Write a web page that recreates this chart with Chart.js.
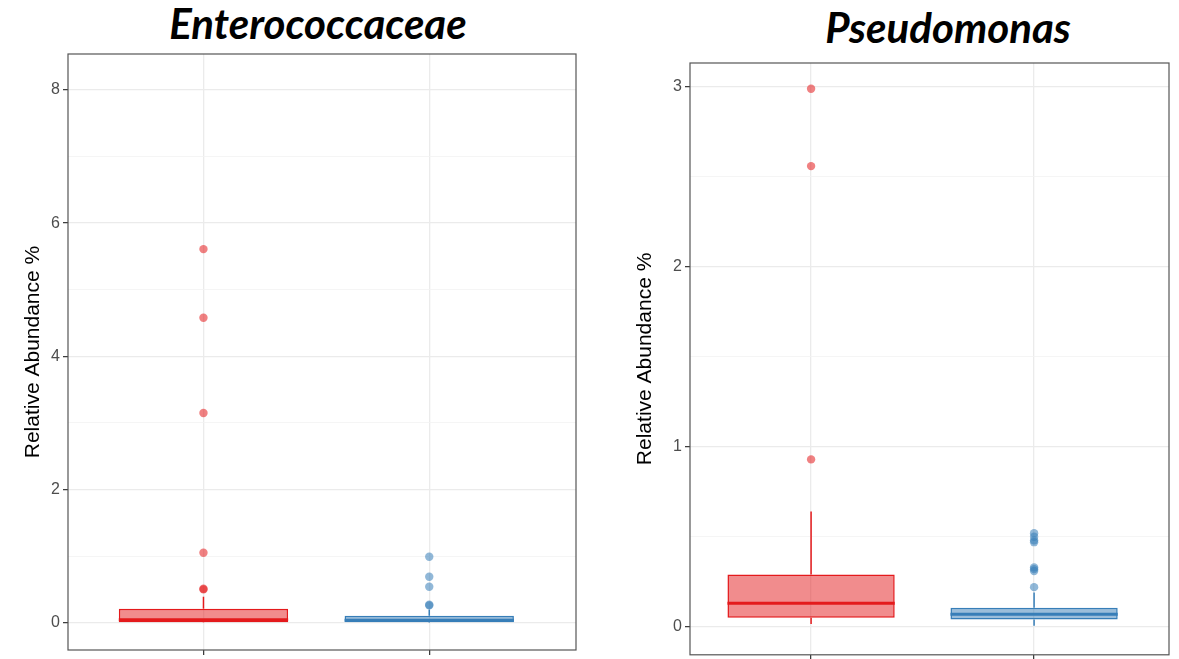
<!DOCTYPE html>
<html>
<head>
<meta charset="utf-8">
<script src="https://cdn.jsdelivr.net/npm/chart.js@4.4.1/dist/chart.umd.min.js"></script>
<style>
  body { margin: 0; background: #fff; width: 1179px; height: 659px; overflow: hidden; position: relative; }
  .panel { position: absolute; top: 0; }
  .title { position: absolute; width: 400px; text-align: center; font-family: Lato, sans-serif;
           font-weight: bold; font-style: italic; font-size: 42px; line-height: 44px; color: #000; }
</style>
</head>
<body>
<div class="title" style="left:118px; top:1px;">Enterococcaceae</div>
<div class="title" style="left:748px; top:5px;">Pseudomonas</div>
<div class="panel" style="left:0; width:590px; height:659px;"><canvas id="entChart" width="590" height="659"></canvas></div>
<div class="panel" style="left:600px; width:579px; height:659px;"><canvas id="pseChart" width="579" height="659"></canvas></div>
<script>
// group positions on the x axis (1 = red group, 2 = blue group)
const groups = [1, 2];
const groupColors = ['#E41A1C', '#377EB8'];
const groupFills = ['rgba(228, 26, 28, 0.5)', 'rgba(55, 126, 184, 0.5)'];
const groupPoints = ['rgba(228, 26, 28, 0.55)', 'rgba(55, 126, 184, 0.55)'];

// Enterococcaceae box stats (per group)
const entLow = [0.0, 0.0];
const entQ1 = [0.005, 0.005];
const entMed = [0.045, 0.035];
const entQ3 = [0.21, 0.105];
const entHigh = [0.39, 0.2];
const entOutRed = [0.5, 0.51, 1.05, 3.15, 4.58, 5.61];
const entOutBlue = [0.26, 0.27, 0.54, 0.69, 0.99];
const entTicks = [0, 1, 2, 3, 4, 5, 6, 7, 8];
const entLabels = ['0', '', '2', '', '4', '', '6', '', '8'];

// Pseudomonas box stats (per group)
const pseLow = [0.015, 0.005];
const pseQ1 = [0.05, 0.04];
const pseMed = [0.13, 0.07];
const pseQ3 = [0.29, 0.105];
const pseHigh = [0.64, 0.19];
const pseOutRed = [0.93, 2.56, 2.99];
const pseOutBlue = [0.22, 0.31, 0.32, 0.33, 0.47, 0.48, 0.5, 0.52];
const pseTicks = [0, 0.5, 1, 1.5, 2, 2.5, 3];
const pseLabels = ['0', '', '1', '', '2', '', '3'];

const halfBox = 0.375;

const frame = {
    id: 'frame',
    afterDraw(chart) {
        const a = chart.chartArea;
        const c = chart.ctx;
        c.save();
        c.strokeStyle = '#555';
        c.lineWidth = 1.2;
        c.strokeRect(a.left, a.top, a.right - a.left, a.bottom - a.top);
        c.restore();
    }
};

function noPad(s) {
    s.paddingTop = 0;
    s.paddingBottom = 0;
    s.paddingLeft = 0;
    s.paddingRight = 0;
}

function buildDatasets(low, q1, med, q3, high, outRed, outBlue) {
    const ds = [];
    ds.push({
        type: 'bar',
        data: groups.map((g, i) => ({ x: g, y: [q1[i], q3[i]] })),
        backgroundColor: groupFills,
        borderColor: groupColors,
        borderWidth: 1.5,
        borderSkipped: false,
        categoryPercentage: 1,
        barPercentage: 0.75,
        order: 3
    });
    groups.forEach((g, i) => {
        ds.push({
            type: 'line',
            data: [{ x: g - halfBox, y: med[i] }, { x: g + halfBox, y: med[i] }],
            borderColor: groupColors[i], borderWidth: 3, pointRadius: 0, order: 2
        });
        ds.push({
            type: 'line',
            data: [{ x: g, y: low[i] }, { x: g, y: q1[i] }],
            borderColor: groupColors[i], borderWidth: 1.5, pointRadius: 0, order: 2
        });
        ds.push({
            type: 'line',
            data: [{ x: g, y: q3[i] }, { x: g, y: high[i] }],
            borderColor: groupColors[i], borderWidth: 1.5, pointRadius: 0, order: 2
        });
    });
    [outRed, outBlue].forEach((vals, i) => {
        ds.push({
            type: 'scatter',
            data: vals.map(v => ({ x: groups[i], y: v })),
            pointBackgroundColor: groupPoints[i],
            pointBorderWidth: 0,
            pointRadius: 4.2,
            order: 1
        });
    });
    return ds;
}

function makeChart(id, datasets, xr, yr, ticks, labels, axisWidth, titlePad, padding, xHeight) {
    const ctx = document.getElementById(id).getContext('2d');
    return new Chart(ctx, {
        type: 'bar',
        data: { datasets: datasets },
        options: {
            responsive: false,
            animation: false,
            layout: { padding: padding },
            plugins: { legend: { display: false }, tooltip: { enabled: false } },
            scales: {
                x: {
                    type: 'linear',
                    min: xr[0], max: xr[1],
                    offset: false,
                    afterBuildTicks: s => { s.ticks = groups.map(v => ({ value: v })); },
                    afterFit: s => { s.height = xHeight; noPad(s); },
                    ticks: { display: false },
                    grid: { offset: false, color: '#EBEBEB', lineWidth: 1.3, tickLength: 5, tickColor: '#333', tickWidth: 1.2 },
                    border: { display: false }
                },
                y: {
                    type: 'linear',
                    min: yr[0], max: yr[1],
                    afterBuildTicks: s => { s.ticks = ticks.map(v => ({ value: v })); },
                    afterFit: s => { s.width = axisWidth; noPad(s); },
                    ticks: {
                        padding: 3,
                        color: '#4D4D4D',
                        font: { family: 'Liberation Sans', size: 16 },
                        callback: (value, index) => labels[index]
                    },
                    grid: {
                        color: c => labels[c.index] === '' ? '#F3F3F3' : '#EBEBEB',
                        lineWidth: c => labels[c.index] === '' ? 0.8 : 1.3,
                        tickLength: 5,
                        tickColor: c => labels[c.index] === '' ? 'rgba(0,0,0,0)' : '#333',
                        tickWidth: 1.2
                    },
                    border: { display: false },
                    title: {
                        display: true,
                        text: 'Relative Abundance %',
                        color: '#000',
                        font: { family: 'Liberation Sans', size: 21 },
                        padding: { top: titlePad, bottom: 0 }
                    }
                }
            }
        },
        plugins: [frame]
    });
}

makeChart('entChart',
    buildDatasets(entLow, entQ1, entMed, entQ3, entHigh, entOutRed, entOutBlue),
    [0.40, 2.65], [-0.41, 8.54], entTicks, entLabels,
    68, 21, { top: 54, right: 14, left: 0, bottom: 0 }, 9);

makeChart('pseChart',
    buildDatasets(pseLow, pseQ1, pseMed, pseQ3, pseHigh, pseOutRed, pseOutBlue),
    [0.457, 2.605], [-0.156, 3.133], pseTicks, pseLabels,
    90, 33, { top: 63, right: 10, left: 0, bottom: 0 }, 4);
</script>
</body>
</html>
